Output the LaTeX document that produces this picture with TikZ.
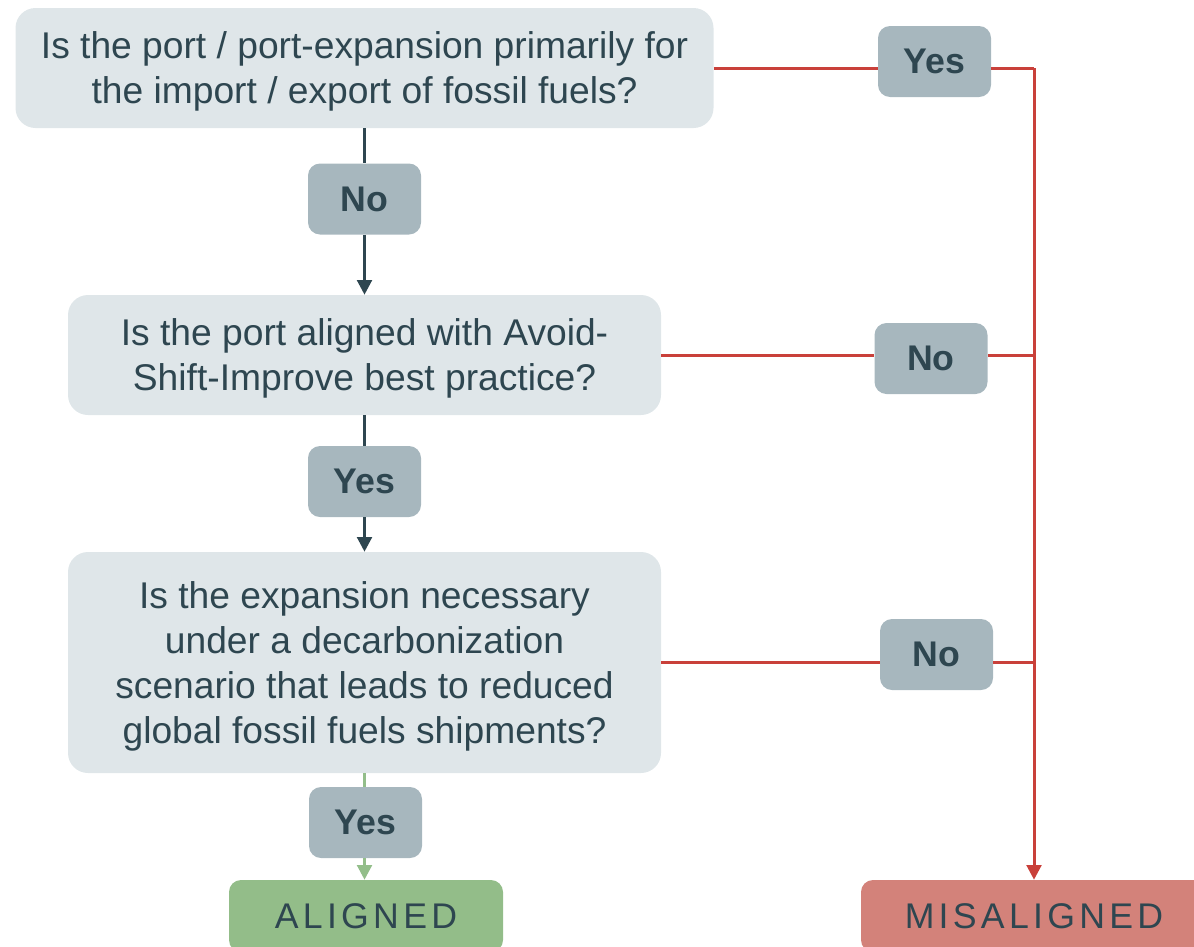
\documentclass[tikz,border=0pt]{standalone}
\usepackage{fontspec}
\setmainfont{Liberation Sans}
\usetikzlibrary{arrows.meta}
\definecolor{txt}{HTML}{2E4650}
\definecolor{qfill}{HTML}{DFE6E9}
\definecolor{lfill}{HTML}{A7B7BE}
\definecolor{redl}{HTML}{C9403A}
\definecolor{greenl}{HTML}{93BE8A}
\definecolor{alfill}{HTML}{93BD89}
\definecolor{misfill}{HTML}{D3827A}
\newcommand{\qtext}[1]{\raisebox{-3pt}[\height][\depth]{\begin{tabular}{@{}c@{}}#1\end{tabular}}}
\begin{document}
\begin{tikzpicture}[x=0.75pt,y=-0.75pt,
  question/.style={rounded corners=15pt, fill=qfill, text=txt, align=center,
    font=\fontsize{27.9}{33.75}\selectfont, inner sep=0pt},
  answer/.style={rounded corners=9pt, fill=lfill, text=txt,
    font=\fontsize{26.75}{30}\selectfont\bfseries, minimum width=84.75pt,
    minimum height=53.25pt, inner sep=0pt},
  outcome/.style={rounded corners=9pt, text=txt, minimum height=54pt, inner sep=0pt,
    font=\fontsize{26.75}{30}\selectfont\addfontfeature{LetterSpace=12}},
  darkline/.style={draw=txt, line width=2.25pt},
  redline/.style={draw=redl, line width=2.25pt},
  greenline/.style={draw=greenl, line width=2.25pt},
  tip/.style={-{Triangle[width=11pt,length=11pt]}}
]
\useasboundingbox (0,0) rectangle (1194,946);
\clip (0,0) rectangle (1194,946);

% question boxes
\node[question, minimum width=523.5pt, minimum height=90pt] (q1) at (364.5,68)
  {\qtext{Is the port / port-expansion primarily for\\the import / export of fossil fuels?}};
\node[question, minimum width=444.75pt, minimum height=90pt] (q2) at (364.5,355)
  {\qtext{Is the port aligned with Avoid-\\Shift-Improve best practice?}};
\node[question, minimum width=444.75pt, minimum height=165.75pt] (q3) at (364.5,662.5)
  {\qtext{Is the expansion necessary\\under a decarbonization\\scenario that leads to reduced\\global fossil fuels shipments?}};

% outcome boxes
\node[outcome, fill=alfill, minimum width=205.5pt] (al) at (366,916) {ALIGNED};
\node[outcome, fill=misfill, minimum width=259.5pt] (mis) at (1034,916) {MISALIGNED};

% answer labels
\node[answer] (no1) at (364.5,199) {No};
\node[answer] (yes2) at (364.5,481.5) {Yes};
\node[answer] (yes3) at (365.5,822.5) {Yes};
\node[answer] (yes1) at (934.5,61.5) {Yes};
\node[answer] (no2) at (931,358.5) {No};
\node[answer] (no3) at (936.5,654.5) {No};

% central flow
\draw[darkline] (q1.south) -- (no1.north);
\draw[darkline, tip] (no1.south) -- (q2.north);
\draw[darkline] (q2.south) -- (yes2.north);
\draw[darkline, tip] (yes2.south) -- (q3.north);
\draw[greenline] (q3.south) -- (q3.south |- yes3.north);
\draw[greenline, tip] (q3.south |- yes3.south) -- (q3.south |- al.north);

% right side
\coordinate (r1) at (1034,68);
\draw[redline] (q1.east) -- (q1.east -| yes1.west);
\draw[redline] (yes1.east |- q1.east) -- (r1);
\draw[redline] (q2.east) -- (q2.east -| no2.west);
\draw[redline] (no2.east |- q2.east) -- (q2.east -| r1);
\draw[redline] (q3.east) -- (q3.east -| no3.west);
\draw[redline] (no3.east |- q3.east) -- (q3.east -| r1);
\draw[redline, tip] (r1) -- (mis.north);
\end{tikzpicture}
\end{document}
